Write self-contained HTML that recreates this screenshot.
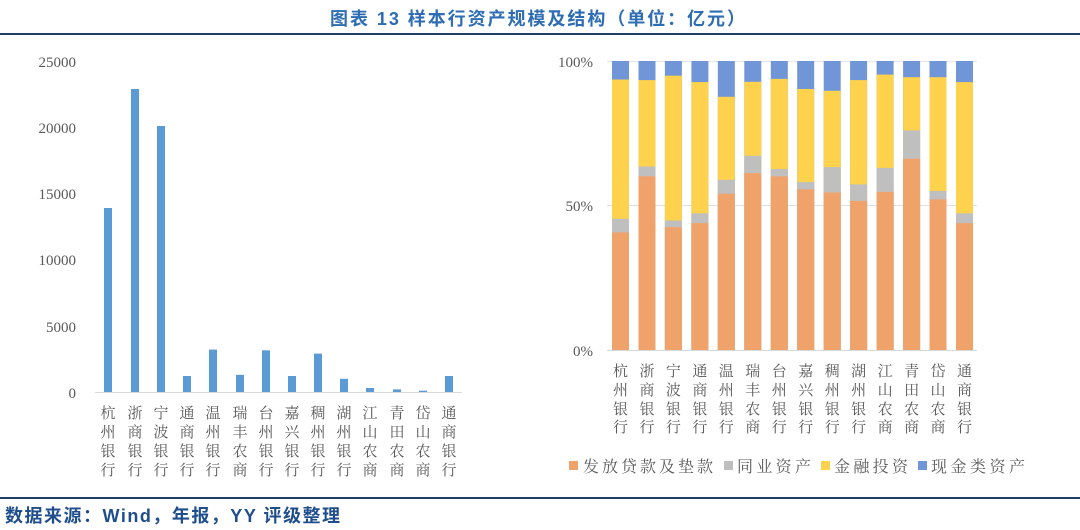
<!DOCTYPE html>
<html><head><meta charset="utf-8"><style>
body{margin:0;width:1080px;height:530px;background:#fff;overflow:hidden}
svg{display:block}
.t{font-family:"Liberation Serif","Noto Serif CJK SC",serif;font-size:15px;fill:#595959}
.c{font-family:"Liberation Serif","Noto Serif CJK SC",serif;font-size:15px;fill:#595959;text-anchor:middle}
</style></head><body>
<svg width="1080" height="530" viewBox="0 0 1080 530">
<text x="330" y="25" textLength="415" lengthAdjust="spacing" style="font-family:'Liberation Sans','Noto Sans CJK SC',sans-serif;font-size:18px;font-weight:bold;fill:#2E6DB4">图表 13 样本行资产规模及结构（单位：亿元）</text>
<rect x="0" y="33" width="1080" height="2" fill="#1F3F66"/>
<rect x="0" y="497" width="1080" height="2" fill="#1F3F66"/>
<text x="5" y="522" textLength="335" lengthAdjust="spacing" style="font-family:'Liberation Sans','Noto Sans CJK SC',sans-serif;font-size:18px;font-weight:bold;fill:#1F4E8C">数据来源：Wind，年报，YY 评级整理</text>

<!-- left chart -->
<g class="t" text-anchor="end">
<text x="76" y="67">25000</text><text x="76" y="133">20000</text><text x="76" y="199">15000</text>
<text x="76" y="265">10000</text><text x="76" y="332">5000</text><text x="76" y="398">0</text>
</g>
<line x1="95" y1="392.5" x2="462" y2="392.5" stroke="#D9D9D9"/>
<g fill="#5B9BD5">
<rect x="104" y="208" width="8" height="184"/>
<rect x="131" y="89" width="8" height="303"/>
<rect x="157" y="126" width="8" height="266"/>
<rect x="183" y="376" width="8" height="16"/>
<rect x="209" y="349.6" width="8" height="42.4"/>
<rect x="236" y="374.8" width="8" height="17.2"/>
<rect x="262" y="350.3" width="8" height="41.7"/>
<rect x="288" y="376" width="8" height="16"/>
<rect x="314" y="353.6" width="8" height="38.4"/>
<rect x="340" y="378.8" width="8" height="13.2"/>
<rect x="366" y="388" width="8" height="4"/>
<rect x="393" y="389.4" width="8" height="2.6"/>
<rect x="419" y="390.7" width="8" height="1.3"/>
<rect x="445" y="376" width="8" height="16"/>
</g>
<g class="c">
<text x="108" y="418">杭</text><text x="108" y="437">州</text><text x="108" y="456">银</text><text x="108" y="475">行</text>
<text x="135" y="418">浙</text><text x="135" y="437">商</text><text x="135" y="456">银</text><text x="135" y="475">行</text>
<text x="161" y="418">宁</text><text x="161" y="437">波</text><text x="161" y="456">银</text><text x="161" y="475">行</text>
<text x="187" y="418">通</text><text x="187" y="437">商</text><text x="187" y="456">银</text><text x="187" y="475">行</text>
<text x="213" y="418">温</text><text x="213" y="437">州</text><text x="213" y="456">银</text><text x="213" y="475">行</text>
<text x="240" y="418">瑞</text><text x="240" y="437">丰</text><text x="240" y="456">农</text><text x="240" y="475">商</text>
<text x="266" y="418">台</text><text x="266" y="437">州</text><text x="266" y="456">银</text><text x="266" y="475">行</text>
<text x="292" y="418">嘉</text><text x="292" y="437">兴</text><text x="292" y="456">银</text><text x="292" y="475">行</text>
<text x="318" y="418">稠</text><text x="318" y="437">州</text><text x="318" y="456">银</text><text x="318" y="475">行</text>
<text x="344" y="418">湖</text><text x="344" y="437">州</text><text x="344" y="456">银</text><text x="344" y="475">行</text>
<text x="370" y="418">江</text><text x="370" y="437">山</text><text x="370" y="456">农</text><text x="370" y="475">商</text>
<text x="397" y="418">青</text><text x="397" y="437">田</text><text x="397" y="456">农</text><text x="397" y="475">商</text>
<text x="423" y="418">岱</text><text x="423" y="437">山</text><text x="423" y="456">农</text><text x="423" y="475">商</text>
<text x="449" y="418">通</text><text x="449" y="437">商</text><text x="449" y="456">银</text><text x="449" y="475">行</text>
</g>

<!-- right chart -->
<g class="t" text-anchor="end">
<text x="593" y="67">100%</text><text x="593" y="211">50%</text><text x="593" y="356">0%</text>
</g>
<line x1="607" y1="61.5" x2="977" y2="61.5" stroke="#E6E6E6"/>
<line x1="607" y1="205.5" x2="977" y2="205.5" stroke="#E0E0E0"/>
<g>
<rect x="612" y="61" width="17" height="289" fill="#7096D8"/><rect x="612" y="79.5" width="17" height="270.5" fill="#FFD24D"/><rect x="612" y="218.8" width="17" height="131.2" fill="#BFBFBF"/><rect x="612" y="232.4" width="17" height="117.6" fill="#F0A26B"/>
<rect x="638.5" y="61" width="17" height="289" fill="#7096D8"/><rect x="638.5" y="80.1" width="17" height="269.9" fill="#FFD24D"/><rect x="638.5" y="166.5" width="17" height="183.5" fill="#BFBFBF"/><rect x="638.5" y="176.3" width="17" height="173.7" fill="#F0A26B"/>
<rect x="664.9" y="61" width="17" height="289" fill="#7096D8"/><rect x="664.9" y="75.7" width="17" height="274.3" fill="#FFD24D"/><rect x="664.9" y="220.5" width="17" height="129.5" fill="#BFBFBF"/><rect x="664.9" y="227.2" width="17" height="122.8" fill="#F0A26B"/>
<rect x="691.4" y="61" width="17" height="289" fill="#7096D8"/><rect x="691.4" y="82.1" width="17" height="267.9" fill="#FFD24D"/><rect x="691.4" y="213.3" width="17" height="136.7" fill="#BFBFBF"/><rect x="691.4" y="223.1" width="17" height="126.9" fill="#F0A26B"/>
<rect x="717.8" y="61" width="17" height="289" fill="#7096D8"/><rect x="717.8" y="96.8" width="17" height="253.2" fill="#FFD24D"/><rect x="717.8" y="179.8" width="17" height="170.2" fill="#BFBFBF"/><rect x="717.8" y="193.7" width="17" height="156.3" fill="#F0A26B"/>
<rect x="744.3" y="61" width="17" height="289" fill="#7096D8"/><rect x="744.3" y="81.8" width="17" height="268.2" fill="#FFD24D"/><rect x="744.3" y="155.8" width="17" height="194.2" fill="#BFBFBF"/><rect x="744.3" y="173.1" width="17" height="176.9" fill="#F0A26B"/>
<rect x="770.8" y="61" width="17" height="289" fill="#7096D8"/><rect x="770.8" y="78.9" width="17" height="271.1" fill="#FFD24D"/><rect x="770.8" y="169.1" width="17" height="180.9" fill="#BFBFBF"/><rect x="770.8" y="176.3" width="17" height="173.7" fill="#F0A26B"/>
<rect x="797.2" y="61" width="17" height="289" fill="#7096D8"/><rect x="797.2" y="89" width="17" height="261" fill="#FFD24D"/><rect x="797.2" y="182.1" width="17" height="167.9" fill="#BFBFBF"/><rect x="797.2" y="189.3" width="17" height="160.7" fill="#F0A26B"/>
<rect x="823.7" y="61" width="17" height="289" fill="#7096D8"/><rect x="823.7" y="90.8" width="17" height="259.2" fill="#FFD24D"/><rect x="823.7" y="167.1" width="17" height="182.9" fill="#BFBFBF"/><rect x="823.7" y="192.5" width="17" height="157.5" fill="#F0A26B"/>
<rect x="850.1" y="61" width="17" height="289" fill="#7096D8"/><rect x="850.1" y="80.1" width="17" height="269.9" fill="#FFD24D"/><rect x="850.1" y="184.4" width="17" height="165.6" fill="#BFBFBF"/><rect x="850.1" y="200.9" width="17" height="149.1" fill="#F0A26B"/>
<rect x="876.6" y="61" width="17" height="289" fill="#7096D8"/><rect x="876.6" y="74.6" width="17" height="275.4" fill="#FFD24D"/><rect x="876.6" y="167.9" width="17" height="182.1" fill="#BFBFBF"/><rect x="876.6" y="191.9" width="17" height="158.1" fill="#F0A26B"/>
<rect x="903.1" y="61" width="17" height="289" fill="#7096D8"/><rect x="903.1" y="77.2" width="17" height="272.8" fill="#FFD24D"/><rect x="903.1" y="130.4" width="17" height="219.6" fill="#BFBFBF"/><rect x="903.1" y="158.7" width="17" height="191.3" fill="#F0A26B"/>
<rect x="929.5" y="61" width="17" height="289" fill="#7096D8"/><rect x="929.5" y="77.2" width="17" height="272.8" fill="#FFD24D"/><rect x="929.5" y="191" width="17" height="159" fill="#BFBFBF"/><rect x="929.5" y="199.4" width="17" height="150.6" fill="#F0A26B"/>
<rect x="956" y="61" width="17" height="289" fill="#7096D8"/><rect x="956" y="82.1" width="17" height="267.9" fill="#FFD24D"/><rect x="956" y="213.3" width="17" height="136.7" fill="#BFBFBF"/><rect x="956" y="223.1" width="17" height="126.9" fill="#F0A26B"/>
</g>
<line x1="607" y1="350.5" x2="977" y2="350.5" stroke="#D9D9D9"/>
<g class="c">
<text x="620.5" y="376">杭</text><text x="620.5" y="395">州</text><text x="620.5" y="414">银</text><text x="620.5" y="432">行</text>
<text x="647" y="376">浙</text><text x="647" y="395">商</text><text x="647" y="414">银</text><text x="647" y="432">行</text>
<text x="673.4" y="376">宁</text><text x="673.4" y="395">波</text><text x="673.4" y="414">银</text><text x="673.4" y="432">行</text>
<text x="699.9" y="376">通</text><text x="699.9" y="395">商</text><text x="699.9" y="414">银</text><text x="699.9" y="432">行</text>
<text x="726.3" y="376">温</text><text x="726.3" y="395">州</text><text x="726.3" y="414">银</text><text x="726.3" y="432">行</text>
<text x="752.8" y="376">瑞</text><text x="752.8" y="395">丰</text><text x="752.8" y="414">农</text><text x="752.8" y="432">商</text>
<text x="779.3" y="376">台</text><text x="779.3" y="395">州</text><text x="779.3" y="414">银</text><text x="779.3" y="432">行</text>
<text x="805.7" y="376">嘉</text><text x="805.7" y="395">兴</text><text x="805.7" y="414">银</text><text x="805.7" y="432">行</text>
<text x="832.2" y="376">稠</text><text x="832.2" y="395">州</text><text x="832.2" y="414">银</text><text x="832.2" y="432">行</text>
<text x="858.6" y="376">湖</text><text x="858.6" y="395">州</text><text x="858.6" y="414">银</text><text x="858.6" y="432">行</text>
<text x="885.1" y="376">江</text><text x="885.1" y="395">山</text><text x="885.1" y="414">农</text><text x="885.1" y="432">商</text>
<text x="911.6" y="376">青</text><text x="911.6" y="395">田</text><text x="911.6" y="414">农</text><text x="911.6" y="432">商</text>
<text x="938" y="376">岱</text><text x="938" y="395">山</text><text x="938" y="414">农</text><text x="938" y="432">商</text>
<text x="964.5" y="376">通</text><text x="964.5" y="395">商</text><text x="964.5" y="414">银</text><text x="964.5" y="432">行</text>
</g>
<g style="font-family:'Liberation Serif','Noto Serif CJK SC',serif;font-size:16px;fill:#595959">
<rect x="569" y="461" width="9" height="9" fill="#F0A26B"/><text x="583" y="472" textLength="130" lengthAdjust="spacing">发放贷款及垫款</text>
<rect x="724" y="461" width="9" height="9" fill="#BFBFBF"/><text x="737" y="472" textLength="74" lengthAdjust="spacing">同业资产</text>
<rect x="821" y="461" width="9" height="9" fill="#FFD24D"/><text x="834" y="472" textLength="74" lengthAdjust="spacing">金融投资</text>
<rect x="918" y="461" width="9" height="9" fill="#7096D8"/><text x="931" y="472" textLength="94" lengthAdjust="spacing">现金类资产</text>
</g>
</svg>
</body></html>
